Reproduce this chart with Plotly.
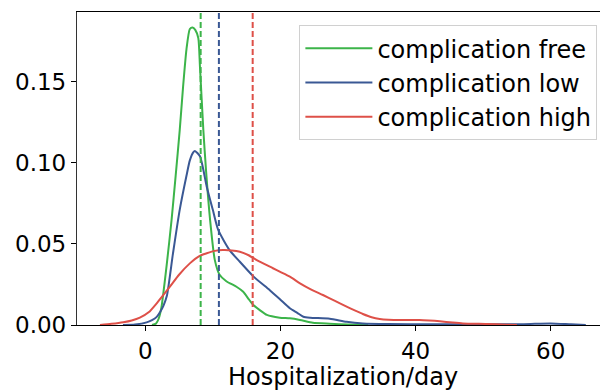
import plotly.graph_objects as go

# ---- data ----
green_x = [1.0, 1.6, 2.0, 2.4, 3.2, 3.9, 4.5, 5.1, 5.6, 6.1, 6.6, 7.0, 7.4, 7.85, 8.1, 8.6, 9.0, 9.6, 10.3,
           11.0, 12.0, 13.5, 14.5, 15.3, 16.0, 17.0, 18.0, 19.9, 21.4, 22.9, 24.8, 27.3, 30.0, 33.0]
green_y = [0.0, 0.001, 0.004, 0.011, 0.038, 0.065, 0.092, 0.12, 0.147, 0.17, 0.1825, 0.1835, 0.182, 0.177,
           0.159, 0.12, 0.095, 0.0647, 0.040, 0.031, 0.027, 0.0236, 0.0205, 0.016, 0.0123, 0.009, 0.0062,
           0.0045, 0.0041, 0.0031, 0.0014, 0.0008, 0.0003, 0.0]

blue_x = [-3.3, -1.5, 0.2, 1.0, 1.7, 2.2, 2.7, 3.2, 4.1, 5.1, 6.1, 6.6, 7.1, 7.35, 8.1, 9.1, 10.0, 10.8, 12.5,
          14.0, 16.0, 18.4, 19.9, 21.4, 22.5, 23.4, 24.4, 27.3, 29.8, 32.2, 36.0, 42.0, 50.0, 56.0, 60.0, 63.0, 65.2]
blue_y = [0.0, 0.0003, 0.0016, 0.003, 0.005, 0.008, 0.012, 0.018, 0.044, 0.071, 0.092, 0.1015, 0.1065, 0.1073,
          0.104, 0.0853, 0.071, 0.0586, 0.046, 0.039, 0.030, 0.0216, 0.016, 0.0103, 0.0075, 0.0051, 0.0045,
          0.0039, 0.002, 0.001, 0.0006, 0.0005, 0.0004, 0.0005, 0.001, 0.0004, 0.0]

red_x = [-6.7, -5.0, -3.25, -2.0, -0.8, 0.5, 1.7, 3.65, 5.0, 6.6, 8.0, 9.1, 10.3, 11.5, 12.8, 14.0, 15.3, 16.5,
         18.9, 19.9, 21.4, 22.9, 24.5, 26.3, 28.0, 29.8, 31.0, 32.2, 33.5, 34.7, 36.0, 37.2, 40.6, 42.0, 43.6,
         45.5, 47.0, 50.5, 53.5, 55.0]
red_y = [0.0, 0.0007, 0.0017, 0.0028, 0.0045, 0.0078, 0.0134, 0.0236, 0.031, 0.038, 0.0425, 0.0442, 0.0457,
         0.0462, 0.046, 0.0452, 0.043, 0.040, 0.035, 0.0329, 0.0298, 0.0257, 0.022, 0.0185, 0.015, 0.0113,
         0.009, 0.0068, 0.0048, 0.0037, 0.0032, 0.0031, 0.0031, 0.0028, 0.0023, 0.0015, 0.001, 0.0006, 0.0002, 0.0]

series_names = ["complication free", "complication low", "complication high"]
series_colors = ["#3cb44a", "#3a5894", "#de5048"]
mean_lines = [8.2, 10.9, 15.9]

x_ticks = [0, 20, 40, 60]
y_ticks = [0.0, 0.05, 0.10, 0.15]
y_tick_text = ["0.00", "0.05", "0.10", "0.15"]
x_title = "Hospitalization/day"

fig = go.Figure()
for i, (xs, ys, name, col) in enumerate(zip([green_x, blue_x, red_x], [green_y, blue_y, red_y],
                                            series_names, series_colors)):
    fig.add_trace(go.Scatter(x=xs, y=ys, mode="lines", name=name, legendgroup=f"g{i}",
                             line=dict(color=col, width=2, shape="spline", smoothing=0.6)))

for xv, col in zip(mean_lines, series_colors):
    fig.add_shape(type="line", xref="x", yref="paper", x0=xv, x1=xv, y0=0, y1=1,
                  line=dict(color=col, width=2, dash="6px,3px"))

font = "DejaVu Sans, sans-serif"
fig.add_annotation(text=x_title, xref="paper", yref="paper", x=0.5086, y=0, yshift=-52,
                   xanchor="center", yanchor="middle", showarrow=False,
                   font=dict(size=24, family=font, color="black"))

fig.update_layout(
    width=600, height=390,
    margin=dict(l=77, r=0, t=12, b=65),
    paper_bgcolor="white", plot_bgcolor="white",
    font=dict(family=font, size=23, color="black"),
    showlegend=True,
    legend=dict(x=0.995, y=0.958, xanchor="right", yanchor="top",
                bgcolor="white", bordercolor="#d0d0d0", borderwidth=1,
                font=dict(size=24, family=font), itemwidth=67,
                traceorder="grouped", tracegroupgap=0),
    xaxis=dict(range=[-10.1, 67.3], tickvals=x_ticks, ticks="outside", ticklen=5, tickwidth=1.2,
               tickcolor="black", showline=True, linecolor="black", linewidth=1.3, mirror=True,
               showgrid=False, zeroline=False, tickfont=dict(size=23)),
    yaxis=dict(range=[0, 0.193], tickvals=y_ticks, ticktext=y_tick_text, ticks="outside", ticklen=5,
               tickwidth=1.2, tickcolor="black", showline=True, linecolor="#333333", linewidth=1.3,
               showgrid=False, zeroline=False, tickfont=dict(size=23)),
)

fig.write_html("out.html")
